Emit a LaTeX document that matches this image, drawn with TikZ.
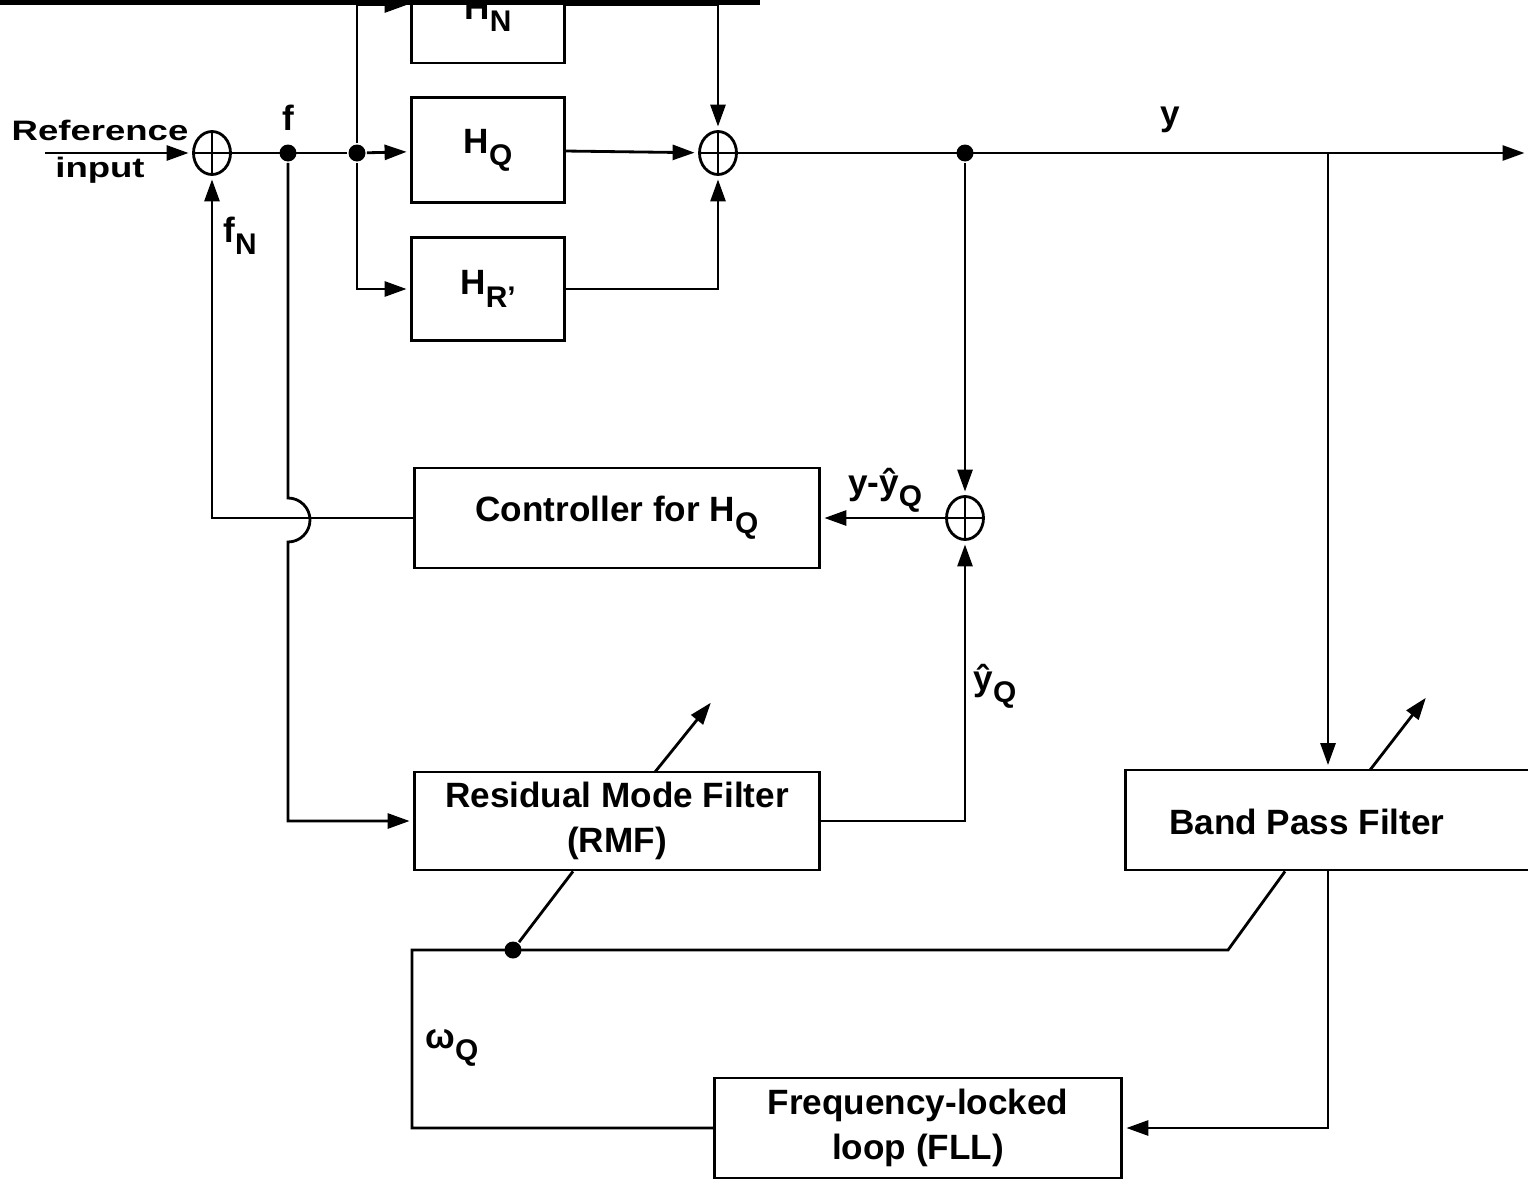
\documentclass[tikz,border=0pt]{standalone}
\usepackage{fontspec}
\setmainfont{Liberation Sans}
\newfontfamily\widefont{Liberation Sans}[FakeStretch=1.3]
\usetikzlibrary{arrows.meta,positioning,calc}
\usetikzlibrary{shapes.geometric}
\newcommand\lowsub[1]{\raisebox{-.35em}{\fontsize{17}{17}\selectfont #1}}

\begin{document}
\begin{tikzpicture}[x=0.02cm,y=-0.02cm,line width=1.6pt,
every node/.style={font=\fontsize{20}{26}\selectfont\bfseries},
blk/.style={draw,rectangle,align=center,inner sep=0pt},
sumj/.style={draw,ellipse,minimum width=.74cm,minimum height=.86cm,inner sep=0pt,
  path picture={\draw[line width=1.2pt] (path picture bounding box.north)--(path picture bounding box.south)
  (path picture bounding box.west)--(path picture bounding box.east);}},
jdot/.style={circle,fill,inner sep=0pt,minimum size=.34cm},
sig/.style={-{Triangle[length=.44cm,width=.3cm]},shorten >=2pt}]
\useasboundingbox (0,0) rectangle (1528,1180);
\clip (0,0) rectangle (1528,1180);
\draw[line width=3pt] (0,2) -- (760,2);

% summing points and taps
\node[sumj] (S1) at (212,153) {};
\node[sumj] (S2) at (718,153) {};
\node[sumj] (S3) at (965,518) {};
\node[jdot] (Df) at (288,153) {};
\node[jdot] (Db) at (357,153) {};
\node[jdot] (Dy) at (965,153) {};
\node[jdot] (Dw) at (513,950) {};

% blocks
\node[blk,minimum width=3.06cm,minimum height=2.32cm] (HN) at (488,5) {H\lowsub{N}\rule{0pt}{23pt}};
\node[blk,minimum width=3.06cm,minimum height=2.1cm] (HQ) at (488,150) {H\lowsub{Q}};
\node[blk,minimum width=3.06cm,minimum height=2.06cm] (HR) at (488,289) {H\lowsub{R'}};
\node[blk,minimum width=8.1cm,minimum height=2cm] (Ctrl) at (617,518) {Controller for H\lowsub{Q}};
\node[blk,minimum width=8.1cm,minimum height=1.96cm] (RMF) at (617,821) {Residual Mode Filter\\(RMF)};
\node[blk,minimum width=8.7cm,minimum height=2cm] (BPF) at (1343,820) {};
\node (BPFtxt) at (1307,822) {Band Pass Filter};
\node[blk,minimum width=8.14cm,minimum height=2cm] (FLL) at (918,1128) {Frequency-locked\\loop (FLL)};

% free ends
\coordinate (Rin) at (45,153);
\coordinate (Yout) at (1528,153);
\coordinate (Ytap) at (1328,153);
\coordinate (Wc) at (412,950);
\coordinate (Wk) at (1228,950);
\coordinate (RMFt) at (655,772);
\coordinate (RMFa) at (713,700);
\coordinate (BPFt) at (1370,770);
\coordinate (BPFa) at (1428,695);

% labels
\node[font=\widefont\fontsize{16}{21}\selectfont\bfseries,align=center] (Lref) at (100,152) {Reference\\input};
\node (Lf) at (288,118) {f};
\node (LfN) at (240,236) {f\lowsub{N}};
\node (Ly) at (1170,120) {y};
\node (Le) at (885,490) {y-\^{y}\lowsub{Q}};
\node (Lyh) at (995,686) {\^{y}\lowsub{Q}};
\node (Lw) at (452,1048) {ω\lowsub{Q}};

% forward path
\draw[sig] (Rin) -- (S1);
\draw (S1) -- (Db);
\draw[sig] (Db) -- (HQ);
\draw[sig] (Db) |- (HN);
\draw[sig] (Db) |- (HR);
\draw[sig] (HQ) -- (S2);
\draw[sig] (HN) -| (S2);
\draw[sig] (HR) -| (S2);
\draw[sig] (S2) -- (Yout);

% feedback loops
\draw[sig] (Dy) -- (S3);
\draw[sig] (S3) -- (Ctrl);
\draw[sig] (Ctrl.west) -| (S1.south);
\draw[sig] (Df) -- (288,498) arc[start angle=90,end angle=-90,radius=0.44cm] |- (RMF.west);
\draw[sig] (RMF.east) -| (S3.south);
\draw[sig] (Ytap) -- (Ytap |- BPF.north);
\draw[sig] (Ytap |- BPF.south) |- (FLL.east);
\draw (FLL.west) -| (Wc) -- (Wk) -- (BPF.south -| 1285,0);
\draw (Dw) -- (RMF.south -| 573,0);
\draw[sig] (RMFt) -- (RMFa);
\draw[sig] (BPFt) -- (BPFa);
\end{tikzpicture}
\end{document}
